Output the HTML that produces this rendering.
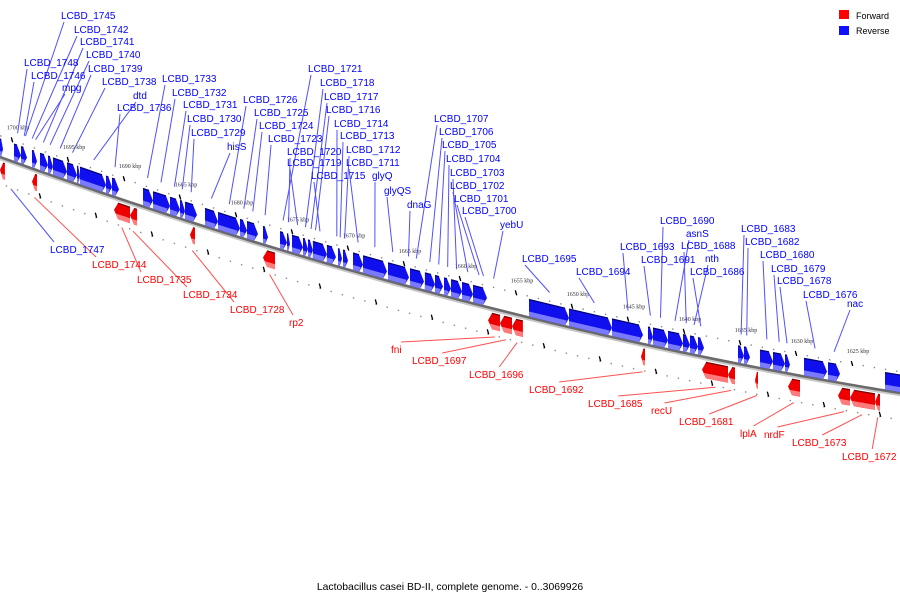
<!DOCTYPE html>
<html><head><meta charset="utf-8"><style>
html,body{margin:0;padding:0;background:#fff;}
svg{display:block;font-family:"Liberation Sans",sans-serif;}
</style></head><body>
<svg id="chart" width="900" height="600" viewBox="0 0 900 600" xmlns="http://www.w3.org/2000/svg">
<g id="axis"></g><g id="genes"></g><g id="leaders"></g><g id="labels"></g>
<g>
<rect x="839" y="10" width="10" height="9" fill="#ff0000"/>
<text x="856" y="19" font-size="9" fill="#000">Forward</text>
<rect x="839" y="26" width="10" height="9" fill="#1010ff"/>
<text x="856" y="34" font-size="9" fill="#000">Reverse</text>
</g>
<text x="450" y="590" font-size="10.4" text-anchor="middle" fill="#000">Lactobacillus casei BD-II, complete genome. - 0..3069926</text>
</svg>
<script>
// ticks (kbp)
const tickKbp = [1700,1695,1690,1685,1680,1675,1670,1665,1660,1655,1650,1645,1640,1635,1630,1625];
// reverse-strand genes [startKbp, endKbp]
const reverseGenes = [[1701.07,1700.80],[1699.82,1699.20],[1699.20,1698.66],[1698.21,1697.77],[1697.50,1696.79],[1696.79,1696.34],[1696.34,1695.09],[1695.09,1694.20],[1694.20,1693.93],[1693.93,1691.61],[1691.61,1691.07],[1691.07,1690.45],[1688.30,1687.41],[1687.41,1685.89],[1685.89,1685.00],[1685.00,1684.55],[1684.55,1683.48],[1682.77,1681.61],[1681.61,1679.64],[1679.64,1679.02],[1679.02,1678.04],[1677.59,1677.14],[1676.07,1675.45],[1675.45,1675.18],[1675.00,1674.02],[1674.02,1673.57],[1673.57,1673.13],[1673.13,1671.88],[1671.88,1671.07],[1670.89,1670.54],[1670.45,1670.00],[1669.55,1668.66],[1668.66,1666.52],[1666.43,1664.55],[1664.46,1663.21],[1663.13,1662.23],[1662.23,1661.52],[1661.43,1660.80],[1660.80,1659.82],[1659.82,1658.84],[1658.84,1657.59],[1653.84,1650.27],[1650.27,1646.43],[1646.43,1643.66],[1643.21,1642.77],[1642.77,1641.43],[1641.43,1640.09],[1640.09,1639.46],[1639.46,1638.75],[1638.75,1638.21],[1635.18,1634.64],[1634.64,1634.11],[1633.21,1632.05],[1632.05,1630.98],[1630.98,1630.54],[1629.29,1627.23],[1627.14,1626.07],[1622.05,1620.27]];
// forward-strand genes [startKbp, endKbp]
const forwardGenes = [[1701.07,1700.63],[1698.21,1697.77],[1690.89,1689.46],[1689.46,1688.84],[1684.11,1683.66],[1677.59,1676.52],[1657.50,1656.43],[1656.43,1655.36],[1655.36,1654.38],[1643.84,1643.48],[1638.39,1636.07],[1636.07,1635.45],[1633.66,1633.39],[1630.71,1629.64],[1626.25,1625.18],[1625.18,1622.95],[1622.95,1622.50]];
// labels
const labelNames = ["LCBD_1745","LCBD_1742","LCBD_1741","LCBD_1740","LCBD_1748","LCBD_1739","LCBD_1746","LCBD_1738","mpg","dtd","LCBD_1736","LCBD_1733","LCBD_1732","LCBD_1731","LCBD_1730","LCBD_1729","hisS","LCBD_1726","LCBD_1725","LCBD_1724","LCBD_1723","LCBD_1720","LCBD_1719","LCBD_1715","LCBD_1721","LCBD_1718","LCBD_1717","LCBD_1716","LCBD_1714","LCBD_1713","LCBD_1712","LCBD_1711","glyQ","glyQS","dnaG","LCBD_1707","LCBD_1706","LCBD_1705","LCBD_1704","LCBD_1703","LCBD_1702","LCBD_1701","LCBD_1700","yebU","LCBD_1695","LCBD_1694","LCBD_1690","asnS","LCBD_1693","LCBD_1688","LCBD_1691","nth","LCBD_1686","LCBD_1683","LCBD_1682","LCBD_1680","LCBD_1679","LCBD_1678","LCBD_1676","nac",
"LCBD_1747","LCBD_1744","LCBD_1735","LCBD_1734","LCBD_1728","rp2","fni","LCBD_1697","LCBD_1696","LCBD_1692","LCBD_1685","recU","LCBD_1681","lplA","nrdF","LCBD_1673","LCBD_1672"];
const labelSide = ["r","r","r","r","r","r","r","r","r","r","r","r","r","r","r","r","r","r","r","r","r","r","r","r","r","r","r","r","r","r","r","r","r","r","r","r","r","r","r","r","r","r","r","r","r","r","r","r","r","r","r","r","r","r","r","r","r","r","r","r",
"rb","f","f","f","f","f","f","f","f","f","f","f","f","f","f","f","f"];
const labelX = [61,74,80,86,24,88,31,102,62,133,117,162,172,183,187,191,227,243,254,259,268,287,287,311,308,320,324,326,334,340,346,346,372,384,407,434,439,442,446,450,450,454,462,500,522,576,660,686,620,681,641,705,690,741,745,760,771,777,803,847,
50,92,137,183,230,289,391,412,469,529,588,651,679,740,764,792,842];
const labelY = [19,33,45,58,66,72,79,85,91,99,111,82,96,108,122,136,150,103,116,129,142,155,166,179,72,86,100,113,127,139,153,166,179,194,208,122,135,148,162,176,189,202,214,228,262,275,224,237,250,249,263,262,275,232,245,258,272,284,298,307,
253,268,283,298,313,326,353,364,378,393,407,414,425,437,438,446,460];
const labelAnchorKbp = [1698.8,1698.2,1697.2,1696.6,1699.5,1695.7,1698.9,1694.6,1697.9,1692.7,1690.8,1687.9,1686.7,1685.5,1684.8,1684.0,1682.2,1680.6,1679.3,1678.5,1677.4,1675.3,1674.5,1672.5,1675.8,1673.8,1673.3,1672.9,1671.0,1670.7,1670.3,1669.1,1667.6,1666.0,1664.6,1663.9,1662.7,1661.9,1661.1,1660.3,1659.3,1658.3,1657.9,1657.0,1652.0,1648.0,1642.1,1640.8,1645.0,1639.8,1643.0,1639.1,1638.5,1634.9,1634.4,1632.6,1631.5,1630.8,1628.3,1626.6,
1700.1,1698.0,1690.2,1689.2,1683.9,1677.0,1656.9,1655.9,1654.9,1643.7,1637.2,1635.8,1633.5,1630.2,1625.7,1624.1,1622.7];

const NS = "http://www.w3.org/2000/svg";
function xOf(k){ return 12 + (1700 - k) * 11.2; }
function yLine(x){ return 157 + 0.362 * x - 0.0001108 * x * x; }
function mk(tag, attrs, parent){
  const el = document.createElementNS(NS, tag);
  for (const k in attrs) el.setAttribute(k, attrs[k]);
  parent.appendChild(el);
  return el;
}
const gAxis = document.getElementById('axis');
const gGenes = document.getElementById('genes');
const gLead = document.getElementById('leaders');
const gLab = document.getElementById('labels');

let pts = [];
for (let x = 0; x <= 900; x += 5) pts.push(x + ',' + yLine(x).toFixed(2));
let shade = mk('polyline', {points: pts.map(p=>{const [a,b]=p.split(',');return a+','+(+b+2.2).toFixed(2);}).join(' '), fill:'none', stroke:'#c8c8c8', 'stroke-width':2}, gAxis);


let axl = mk('polyline', {points: pts.join(' '), fill:'none', stroke:'#6a6a6a', 'stroke-width':2.6}, gAxis);



for (let k = 1702; k >= 1619; k--) {
  const x = xOf(k) ; if (x < -5 || x > 905) continue;
  const y = yLine(x);
  let d1 = mk('rect', {x: x-0.7, y: y-22, width:1.4, height:1.4, fill:'#888'}, gAxis);
  
  
  const xb = xOf(k - 0.5);
  let d2 = mk('rect', {x: xb-0.7, y: yLine(xb)+26, width:1.4, height:1.4, fill:'#888'}, gAxis);
  
  
}
tickKbp.forEach(k => {
  const x = xOf(k), y = yLine(x);
  let t = mk('line', {x1:x-0.7, y1:y-24, x2:x+0.7, y2:y-19, stroke:'#000', 'stroke-width':1.3}, gAxis);
  
  
  let tl = mk('text', {x:x+6, y:y-32, 'font-size':6, 'text-anchor':'middle', fill:'#333', 'font-family':'"Liberation Serif",serif'}, gAxis);
  tl.textContent = k + ' kbp';
  
  
  const xb = xOf(k - 2.5), yb = yLine(xb);
  let t2 = mk('line', {x1:xb-0.7, y1:yb+22, x2:xb+0.7, y2:yb+27, stroke:'#000', 'stroke-width':1.3}, gAxis);
  
  
});

function P(x, off){ return x.toFixed(1) + ',' + (yLine(x) + off).toFixed(1); }
reverseGenes.forEach(g => {
  const x1 = xOf(g[0]), x2 = xOf(g[1]);
  const h = Math.min(4, (x2 - x1) * 0.6);
  const grp = mk('g', {}, gGenes);
  
  
  mk('polygon', {points: [P(x1,-18),P(x2-h,-18),P(x2,-9),P(x2-h,-1),P(x1,-1)].join(' '), fill:'#1010ee'}, grp);
  mk('polygon', {points: [P(x1,-6),P(x2-h*0.6,-6),P(x2-h,-1),P(x1,-1)].join(' '), fill:'#7a7aff'}, grp);
  mk('polyline', {points: [P(x1,-18),P(x2-h,-18)].join(' '), stroke:'#000070', 'stroke-width':1.2, fill:'none'}, grp);
});
forwardGenes.forEach(g => {
  const x1 = xOf(g[0]), x2 = xOf(g[1]);
  const h = Math.min(4, (x2 - x1) * 0.6);
  const grp = mk('g', {}, gGenes);
  
  
  mk('polygon', {points: [P(x1+h,5),P(x2,5),P(x2,21),P(x1+h,21),P(x1,13)].join(' '), fill:'#ee0000'}, grp);
  mk('polygon', {points: [P(x1+h,16),P(x2,16),P(x2,21),P(x1+h,21),P(x1+h*0.4,16)].join(' '), fill:'#ff7a7a'}, grp);
  mk('polyline', {points: [P(x1+h,5),P(x2,5)].join(' '), stroke:'#700000', 'stroke-width':1.2, fill:'none'}, grp);
});

labelNames.forEach((name, i) => {
  const side = labelSide[i];
  const color = side === 'f' ? '#ff0000' : '#0000ff';
  const lcol = side === 'f' ? '#ff5050' : '#5050ff';
  const ax = xOf(labelAnchorKbp[i]);
  const ay = side === 'r' ? yLine(ax) - 30 : yLine(ax) + 28;
  const w = name.length * 5.6;
  let lx, ly;
  if (side === 'r') { lx = labelX[i] + 3; ly = labelY[i] + 3; }
  else { lx = Math.min(Math.max(ax, labelX[i]+4), labelX[i] + w*0.6); ly = labelY[i] - 11; }
  const ln = mk('line', {x1:lx, y1:ly, x2:ax, y2:ay, stroke:lcol, 'stroke-width':1}, gLead);
  
  
  const t = mk('text', {x:labelX[i], y:labelY[i], 'font-size':10, fill:color}, gLab);
  t.textContent = name;
  
  
});
</script>
</body></html>
